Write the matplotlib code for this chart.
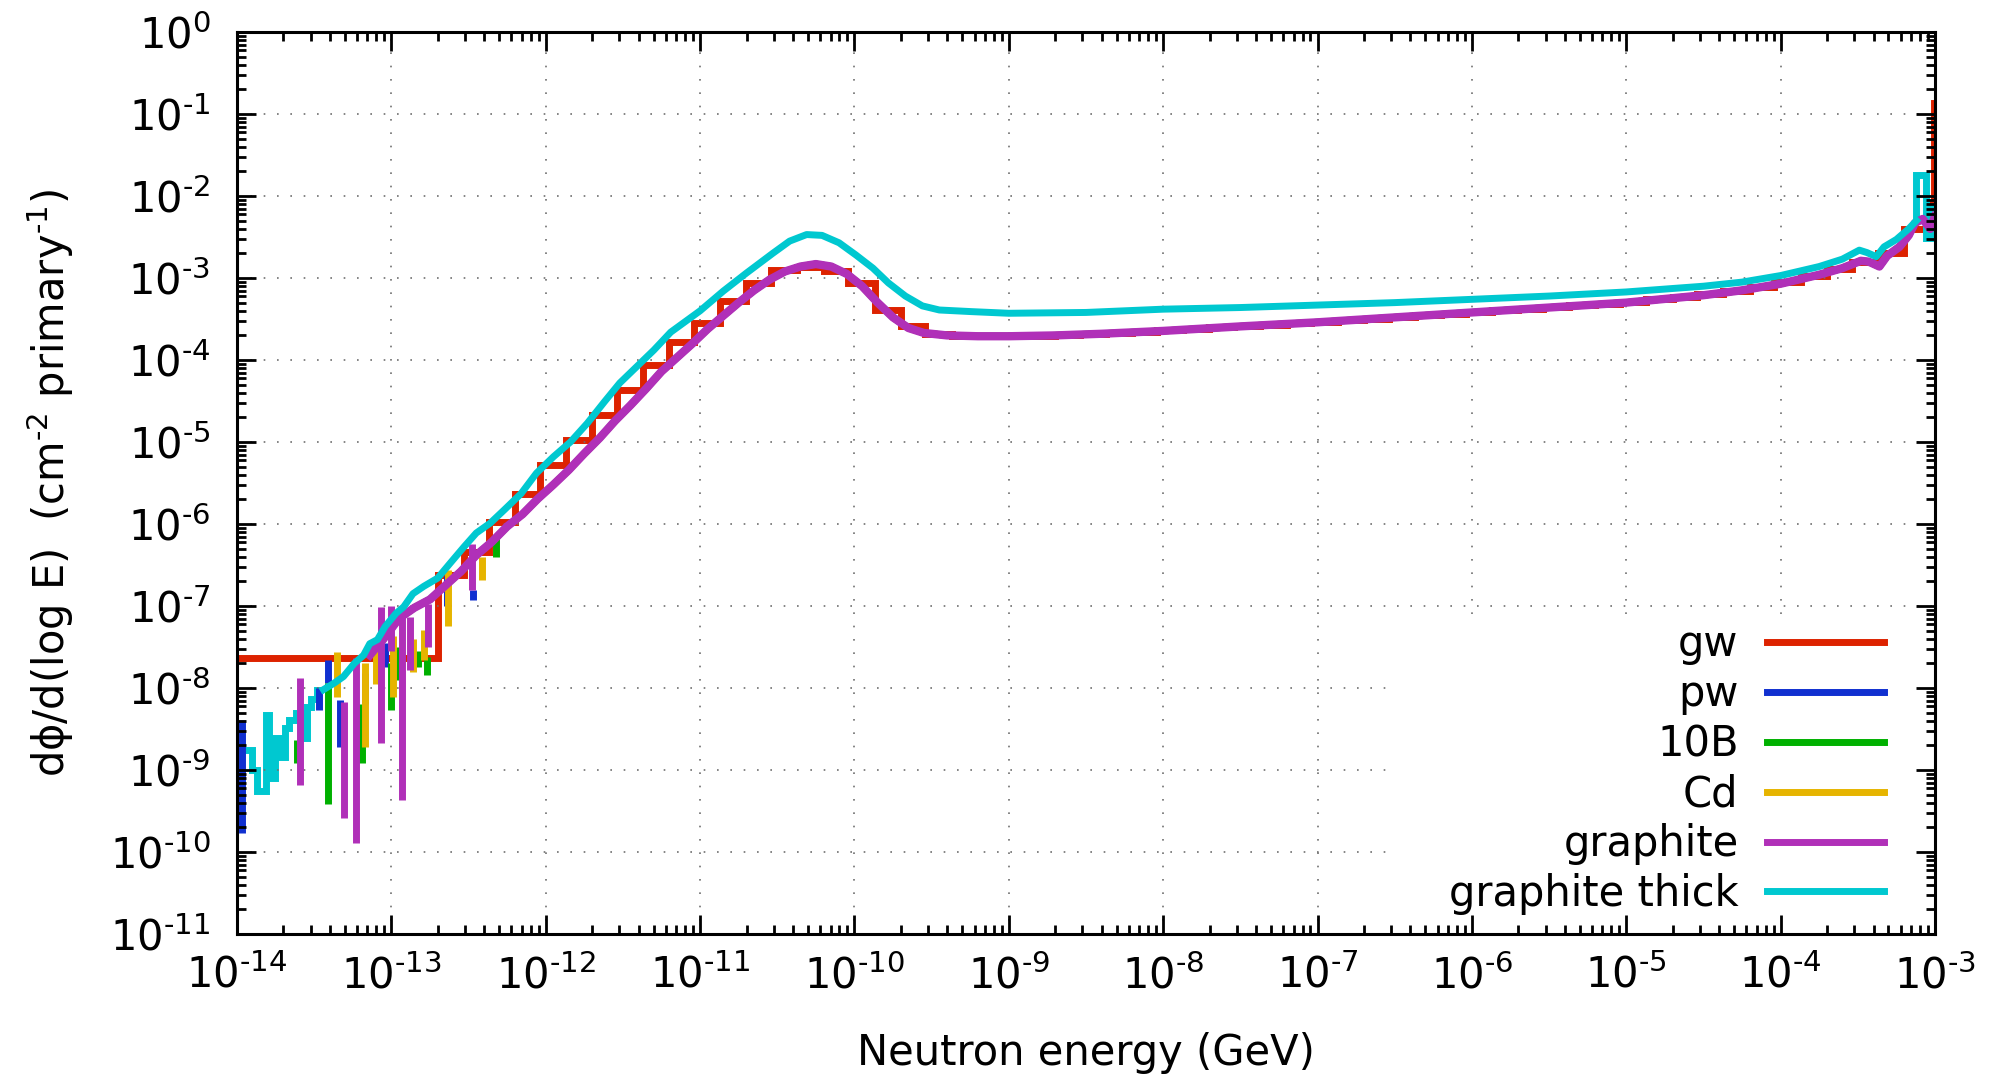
import matplotlib
matplotlib.use("Agg")
import matplotlib.pyplot as plt
import numpy as np
from matplotlib.patches import Rectangle
from matplotlib.ticker import FuncFormatter, LogLocator, NullFormatter

# All values are log10:
#   *_lge -> log10(neutron energy / GeV), *_lgf -> log10(dphi/dlogE)

# gw: coarse histogram (bin edges + bin values)
gw_edges = [-14.0, -12.70, -12.53, -12.37, -12.20, -12.04, -11.87, -11.70, -11.54,
            -11.37, -11.20, -11.04, -10.87, -10.70, -10.54, -10.37, -10.20, -10.04,
            -9.87, -9.70, -9.54, -9.37, -9.20, -9.04, -8.87, -8.70, -8.54, -8.37,
            -8.20, -8.04, -7.87, -7.70, -7.54, -7.37, -7.20, -7.04, -6.87, -6.70,
            -6.54, -6.37, -6.20, -6.04, -5.87, -5.70, -5.54, -5.37, -5.20, -5.04,
            -4.87, -4.70, -4.54, -4.37, -4.20, -4.04, -3.87, -3.70, -3.54, -3.37,
            -3.20, -3.04, -3.008, -3.0]
gw_lgf = [-7.63, -6.62, -6.34, -5.97, -5.63, -5.28, -4.98, -4.67, -4.37, -4.06,
          -3.78, -3.55, -3.28, -3.06, -2.90, -2.86, -2.92, -3.06, -3.39, -3.59,
          -3.68,
          -3.705, -3.71, -3.71, -3.703, -3.695, -3.684, -3.67, -3.655, -3.64, -3.62,
          -3.60, -3.585, -3.57, -3.55, -3.535, -3.515, -3.495, -3.475, -3.455, -3.435,
          -3.415, -3.395, -3.375, -3.355, -3.335, -3.315, -3.29, -3.26, -3.23, -3.20,
          -3.16, -3.11, -3.05, -2.97, -2.89, -2.80, -2.69, -2.40, -2.10, -0.87]

# pw, 10B, Cd and graphite lie on top of each other above ~1e-13 GeV
common_lge = [-13.14, -13.05, -12.95, -12.85, -12.75, -12.65, -12.55, -12.45, -12.35,
              -12.25, -12.15, -12.05, -11.95, -11.85, -11.75, -11.65, -11.55, -11.45,
              -11.35, -11.25, -11.15, -11.05, -10.95, -10.85, -10.75, -10.65, -10.55,
              -10.45, -10.35, -10.25, -10.15, -10.05, -9.95, -9.85, -9.75, -9.65, -9.55,
              -9.40, -9.2, -9.0, -8.7, -8.4, -8.0, -7.5, -7.0, -6.5, -6.0, -5.5, -5.0,
              -4.5, -4.25, -4.0, -3.75, -3.6, -3.48, -3.43, -3.36, -3.31, -3.23, -3.17,
              -3.13, -3.08, -3.03, -3.0]
common_lgf = [-7.60, -7.40, -7.15, -7.02, -6.92, -6.75, -6.58, -6.38, -6.22, -6.03,
              -5.88, -5.69, -5.52, -5.34, -5.14, -4.95, -4.74, -4.55, -4.35, -4.14,
              -3.97, -3.80, -3.62, -3.46, -3.30, -3.15, -3.02, -2.92, -2.86, -2.83,
              -2.86, -2.95, -3.10, -3.30, -3.48, -3.61, -3.67, -3.70, -3.71, -3.71,
              -3.70, -3.68, -3.645, -3.59, -3.54, -3.48, -3.42, -3.36, -3.30, -3.21,
              -3.15, -3.07, -2.96, -2.88, -2.79, -2.80, -2.86, -2.73, -2.62, -2.48,
              -2.33, -2.28, -2.40, -2.25]

# low-statistics spikes below ~1e-12 GeV: energy, bottom, top
pw_spike_lge = [-13.965, -13.47, -13.41, -13.33, -13.17, -13.04, -12.64, -12.47]
pw_spike_lo = [-9.77, -8.27, -7.94, -8.72, -8.19, -7.75, -7.00, -6.93]
pw_spike_hi = [-8.39, -8.00, -7.66, -8.15, -7.82, -7.45, -6.64, -6.80]

b10_spike_lge = [-13.61, -13.41, -13.19, -13.00, -12.95, -12.83, -12.77, -12.32]
b10_spike_lo = [-8.92, -9.41, -8.92, -8.27, -7.90, -7.75, -7.84, -6.40]
b10_spike_hi = [-8.63, -7.94, -8.19, -7.70, -7.50, -7.55, -7.62, -6.15]

cd_spike_lge = [-13.35, -13.17, -13.10, -12.99, -12.86, -12.79, -12.63, -12.41]
cd_spike_lo = [-8.11, -8.72, -7.95, -8.11, -7.80, -7.66, -7.25, -6.68]
cd_spike_hi = [-7.56, -7.70, -7.45, -7.37, -7.40, -7.29, -6.56, -6.40]

graphite_spike_lge = [-13.59, -13.31, -13.23, -13.07, -13.00, -12.93, -12.88, -12.76, -12.48]
graphite_spike_lo = [-9.18, -9.59, -9.89, -8.67, -7.55, -9.37, -7.78, -7.50, -6.80]
graphite_spike_hi = [-7.88, -8.17, -7.64, -7.01, -7.00, -7.13, -7.13, -6.97, -6.24]

# graphite thick: noisy low end (histogram), smooth body, spike at the top end
thick_low_edges = [-13.96, -13.90, -13.87, -13.815, -13.79, -13.755, -13.725, -13.69,
                   -13.665, -13.62, -13.575, -13.545, -13.52, -13.48, -13.44]
thick_low_lgf = [-8.76, -9.00, -9.26, -8.33, -9.10, -8.61, -8.84, -8.49, -8.39,
                 -8.31, -8.61, -8.23, -8.13, -8.02]
thick_lge = [-13.44, -13.37, -13.31, -13.24, -13.18, -13.14, -13.09, -13.04, -12.97,
             -12.92, -12.86, -12.79, -12.70, -12.62, -12.53, -12.45, -12.36, -12.27,
             -12.16, -12.06, -11.95, -11.84, -11.73, -11.62, -11.52, -11.41, -11.30,
             -11.19, -11.0, -10.85, -10.70, -10.53, -10.42, -10.31, -10.21, -10.10,
             -9.99, -9.88, -9.78, -9.67, -9.56, -9.45, -9.24, -9.0, -8.5, -8.0, -7.5,
             -7.0, -6.5, -6.0, -5.5, -5.0, -4.5, -4.25, -4.0, -3.75, -3.6, -3.49,
             -3.44, -3.38, -3.33, -3.25, -3.17, -3.12]
thick_lgf = [-8.02, -7.94, -7.86, -7.70, -7.60, -7.46, -7.41, -7.25, -7.09, -7.01,
             -6.85, -6.76, -6.66, -6.48, -6.28, -6.11, -5.99, -5.83, -5.63, -5.38,
             -5.18, -5.00, -4.77, -4.51, -4.28, -4.08, -3.88, -3.66, -3.40, -3.16,
             -2.94, -2.70, -2.55, -2.47, -2.48, -2.57, -2.72, -2.88, -3.06, -3.22,
             -3.34, -3.39, -3.41, -3.43, -3.42, -3.38, -3.36, -3.33, -3.30, -3.26,
             -3.22, -3.17, -3.10, -3.05, -2.97, -2.86, -2.77, -2.66, -2.69, -2.74,
             -2.62, -2.53, -2.40, -2.30]
thick_end_edges = [-3.12, -3.06, -3.015, -3.0]
thick_end_lgf = [-1.74, -2.51, -2.13]

COLORS = {
    "gw": "#dd2200",
    "pw": "#1030d0",
    "10B": "#00b000",
    "Cd": "#e6b400",
    "graphite": "#b030b8",
    "graphite thick": "#00c8d0",
}
LW = 5
FONT = 30


def tenpow(v):
    return 10.0 ** np.asarray(v, dtype=float)


def decade_label(v, pos):
    # gnuplot style: short hyphen in the exponent
    e = int(round(np.log10(v)))
    if e < 0:
        return r"$10^{\text{-}%d}$" % (-e)
    return r"$10^{%d}$" % e


plt.rcParams["font.family"] = "DejaVu Sans"
plt.rcParams["mathtext.fontset"] = "dejavusans"
plt.rcParams["axes.unicode_minus"] = False

fig = plt.figure(figsize=(19.95, 10.82), dpi=100)
ax = fig.add_axes([0.1188, 0.1368, 0.8511, 0.8336])
ax.set_xscale("log")
ax.set_yscale("log")
ax.set_axisbelow(False)

handles = []

h = ax.stairs(tenpow(gw_lgf), tenpow(gw_edges), baseline=None, color=COLORS["gw"],
              lw=LW, label="gw")
handles.append(h)

spikes = [
    ("pw", pw_spike_lge, pw_spike_lo, pw_spike_hi),
    ("10B", b10_spike_lge, b10_spike_lo, b10_spike_hi),
    ("Cd", cd_spike_lge, cd_spike_lo, cd_spike_hi),
    ("graphite", graphite_spike_lge, graphite_spike_lo, graphite_spike_hi),
]
for name, sp_e, sp_lo, sp_hi in spikes:
    lw = 6 if name == "graphite" else LW
    ax.vlines(tenpow(sp_e), tenpow(sp_lo), tenpow(sp_hi), color=COLORS[name], lw=LW)
    (line,) = ax.plot(tenpow(common_lge), tenpow(common_lgf), color=COLORS[name],
                      lw=lw, label=name)
    handles.append(line)

cyan = COLORS["graphite thick"]
ax.stairs(tenpow(thick_low_lgf), tenpow(thick_low_edges), baseline=None, color=cyan, lw=LW)
(line,) = ax.plot(tenpow(thick_lge), tenpow(thick_lgf), color=cyan, lw=LW,
                  label="graphite thick")
handles.append(line)
ax.stairs(tenpow(thick_end_lgf), tenpow(thick_end_edges), baseline=tenpow(thick_lgf[-1]),
          color=cyan, lw=LW)

ax.set_xlim(1e-14, 1e-3)
ax.set_ylim(1e-11, 1e0)

# dotted grid at every decade, kept behind the curves and the key
for k in range(-13, -3):
    ax.axvline(10.0 ** k, color="#707070", lw=1.2, ls=(0, (1, 7)), zorder=1)
for k in range(-10, 0):
    ax.axhline(10.0 ** k, color="#707070", lw=1.2, ls=(0, (1, 7)), zorder=1)

for axis in (ax.xaxis, ax.yaxis):
    axis.set_major_locator(LogLocator(base=10, numticks=30))
    axis.set_minor_locator(LogLocator(base=10, subs=np.arange(2, 10), numticks=300))
    axis.set_major_formatter(FuncFormatter(decade_label))
    axis.set_minor_formatter(NullFormatter())

ax.tick_params(which="both", direction="in", top=True, right=True, width=2)
ax.tick_params(which="major", length=13.5, labelsize=FONT)
ax.tick_params(axis="x", which="major", pad=15)
ax.tick_params(axis="y", which="major", pad=19)
ax.tick_params(which="minor", length=6.5)
for s in ax.spines.values():
    s.set_linewidth(2.2)

ax.set_xlabel("Neutron energy (GeV)", fontsize=FONT)
ax.set_ylabel("d\u03d5/d(log E)  (cm$^{\\text{-}2}$ primary$^{\\text{-}1}$)", fontsize=FONT)
ax.xaxis.set_label_coords(0.5, -0.109)
ax.yaxis.set_label_coords(-0.095, 0.5)

# opaque key area: hides the grid but not the tics
ax.add_patch(Rectangle((0.678, 0.0), 0.322, 0.346, transform=ax.transAxes,
                       facecolor="white", edgecolor="none", zorder=2.3))
leg = ax.legend(handles=handles, loc="lower right", bbox_to_anchor=(0.970, 0.021),
                frameon=False, markerfirst=False, fontsize=FONT, handlelength=2.82,
                handletextpad=0.67, labelspacing=0.19, borderpad=0, borderaxespad=0)
leg.set_zorder(2.4)
for lh in leg.get_lines():
    lh.set_linewidth(LW)

fig.savefig("out.png", dpi=100)
